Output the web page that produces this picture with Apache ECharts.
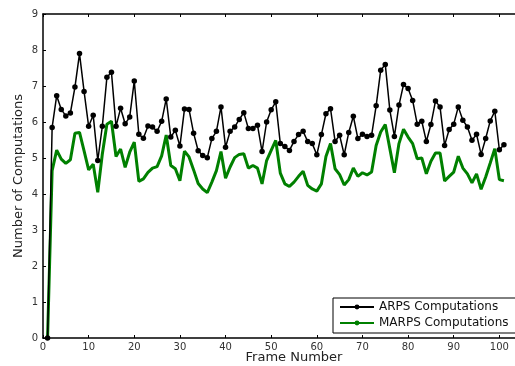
<!DOCTYPE html>
<html>
<head>
<meta charset="utf-8">
<script src="https://cdn.jsdelivr.net/npm/echarts@6/dist/echarts.min.js"></script>
<style>
  html, body { margin: 0; padding: 0; background: #fff; }
  #chart { width: 515px; height: 366px; }
</style>
</head>
<body>
<div id="chart"></div>
<script>
// frames 1..101
const frames = Array.from({ length: 101 }, (_, i) => i + 1)

const arps = [
    0, 5.85, 6.73, 6.35, 6.17, 6.25, 6.97, 7.9, 6.85, 5.88,
    6.19, 4.93, 5.88, 7.24, 7.38, 5.88, 6.38, 5.95, 6.14, 7.14,
    5.66, 5.55, 5.89, 5.86, 5.74, 6.02, 6.64, 5.58, 5.77, 5.33,
    6.36, 6.35, 5.69, 5.2, 5.07, 5.01, 5.54, 5.74, 6.42, 5.3,
    5.74, 5.86, 6.07, 6.26, 5.82, 5.82, 5.91, 5.18, 6.0, 6.34,
    6.56, 5.4, 5.32, 5.21, 5.46, 5.65, 5.74, 5.46, 5.4, 5.09,
    5.65, 6.23, 6.37, 5.46, 5.63, 5.09, 5.71, 6.16, 5.54, 5.66,
    5.6, 5.63, 6.45, 7.44, 7.6, 6.33, 5.6, 6.47, 7.04, 6.93,
    6.6, 5.94, 6.02, 5.46, 5.93, 6.58, 6.42, 5.35, 5.79, 5.94,
    6.42, 6.05, 5.86, 5.49, 5.66, 5.1, 5.54, 6.03, 6.3, 5.23,
    5.37
]

const marps = [
    0, 4.65, 5.22, 4.97, 4.85, 4.95, 5.69, 5.71, 5.2, 4.67,
    4.83, 4.05, 5.11, 5.94, 6.02, 5.04, 5.25, 4.74, 5.16, 5.44,
    4.35, 4.42, 4.6, 4.72, 4.76, 5.06, 5.64, 4.79, 4.7, 4.37,
    5.19, 5.03, 4.67, 4.29, 4.14, 4.04, 4.33, 4.65, 5.18, 4.44,
    4.75, 5.01, 5.1, 5.12, 4.72, 4.79, 4.72, 4.28, 4.93, 5.21,
    5.49, 4.58, 4.28, 4.21, 4.33, 4.49, 4.63, 4.24, 4.14, 4.08,
    4.28, 5.04, 5.4, 4.7, 4.54, 4.25, 4.4, 4.72, 4.49, 4.59,
    4.53, 4.61, 5.35, 5.72, 5.93, 5.26, 4.59, 5.4, 5.8, 5.58,
    5.4, 4.98, 5.0, 4.56, 4.91, 5.14, 5.14, 4.36, 4.49, 4.61,
    5.05, 4.72, 4.56, 4.31, 4.56, 4.13, 4.47, 4.86, 5.26, 4.4,
    4.37
]

const font = 'DejaVu Sans'
const chart = echarts.init(document.getElementById('chart'), null, { renderer: 'canvas' })

const axisCommon = {
    type: 'value',
    axisLine: { show: true, lineStyle: { color: '#000', width: 1.5 } },
    axisTick: { show: true, inside: true, length: 3, lineStyle: { color: '#000' } },
    splitLine: { show: false },
}

const option = {
    animation: false,
    backgroundColor: '#fff',
    // plot box runs off the right edge, as in the original (0..110 over 502px)
    grid: { left: 43, top: 14, height: 324, width: 502, outerBoundsMode: 'none', containLabel: false },
    xAxis: [
        {
            ...axisCommon,
            min: 0, max: 110, interval: 10,
            name: 'Frame Number', nameLocation: 'middle', nameGap: 13, nameMoveOverlap: false,
            nameTextStyle: { fontFamily: font, fontSize: 13, color: '#222' },
            axisLabel: {
                fontFamily: font, fontSize: 10, color: '#333', margin: 4,
                formatter: (v) => (v <= 100 ? String(v) : ''),
            },
        },
        {
            ...axisCommon,
            position: 'top',
            min: 0, max: 110, interval: 10,
            axisLabel: { show: false },
        },
    ],
    yAxis: {
        ...axisCommon,
        min: 0, max: 9, interval: 1,
        name: 'Number of Computations', nameLocation: 'middle', nameGap: 18, nameMoveOverlap: false,
        nameTextStyle: { fontFamily: font, fontSize: 13, color: '#222' },
        axisLabel: { fontFamily: font, fontSize: 10, color: '#333', margin: 5 },
    },
    legend: {
        left: 333, top: 298,
        orient: 'vertical',
        backgroundColor: '#fff',
        borderColor: '#000', borderWidth: 1, borderRadius: 0,
        padding: [2, 8, 3, 6],
        itemGap: 2,
        itemWidth: 34, itemHeight: 6,
        textStyle: { fontFamily: font, fontSize: 12, color: '#111', lineHeight: 14 },
        data: ['ARPS Computations', 'MARPS Computations'],
    },
    series: [
        {
            name: 'ARPS Computations',
            type: 'line',
            data: frames.map((f, i) => [f, arps[i]]),
            symbol: 'circle', symbolSize: 5.5,
            itemStyle: { color: '#000' },
            lineStyle: { color: '#000', width: 1.5 },
            z: 3,
        },
        {
            name: 'MARPS Computations',
            type: 'line',
            data: frames.map((f, i) => [f, marps[i]]),
            symbol: 'none',
            itemStyle: { color: '#008000' },
            lineStyle: { color: '#008000', width: 3 },
            z: 2,
        },
    ],
}

chart.setOption(option)
</script>
</body>
</html>
